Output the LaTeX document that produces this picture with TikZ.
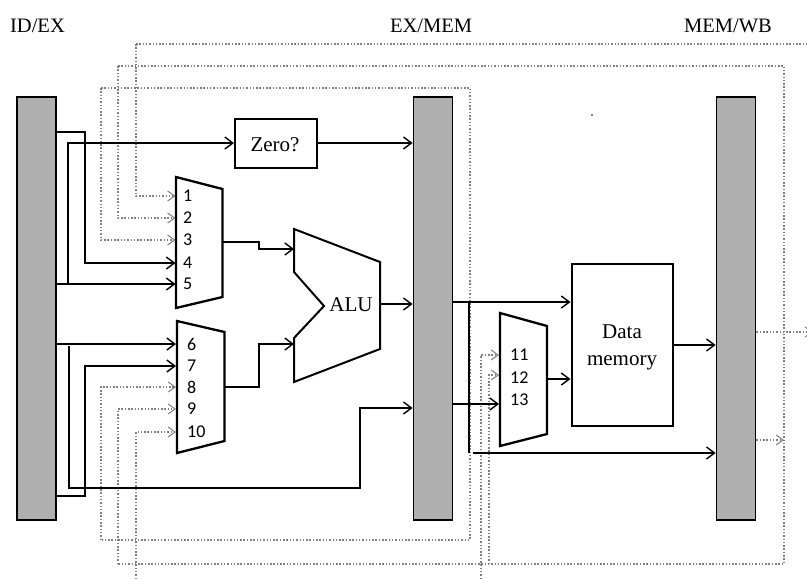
\documentclass[tikz,border=0pt]{standalone}
\usepackage{fontspec}
\setmainfont{Liberation Serif}
\newfontfamily\numfont{Carlito}
\usetikzlibrary{arrows.meta}
\tikzset{
 latch/.style={draw=black,line width=1.8pt,fill=black!31,minimum width=39pt,minimum height=423pt,inner sep=0pt},
 unit/.style={draw=black,line width=2pt,inner sep=0pt},
 unittext/.style={inner sep=0pt,align=center,font=\fontsize{21}{27}\selectfont},
 mux/.style={draw=black,line width=2.3pt,line join=miter},
 wire/.style={black,line width=1.6pt,-{Straight Barb[length=8pt,width=12pt,line width=1.4pt]}},
 fat/.style={line width=2.2pt},
 fwd/.style={gray,line width=1.2pt,dash pattern=on 1.5pt off 1.8pt},
 fwdin/.style={fwd,-{Straight Barb[length=7pt,width=10pt,line width=1pt]}},
 port/.style={anchor=west,inner sep=0pt,font=\numfont\fontsize{18}{18}\selectfont},
 title/.style={font=\fontsize{20.5}{24}\selectfont,inner sep=0pt},
}
\begin{document}
\begin{tikzpicture}[x=1pt,y=-1pt]
 \clip (0,0) rectangle (807,579);
 \fill[white] (0,0) rectangle (807,579);
 % pipeline latches
 \node[latch] (idex) at (36.5,308.5) {};
 \node[latch] (exmem) at (433,308.5) {};
 \node[latch] (memwb) at (736,308.5) {};
 \node[title] (idexlab) at (37.5,26) {ID/EX};
 \node[title] (exmemlab) at (431,26) {EX/MEM};
 \node[title] (memwblab) at (728,26) {MEM/WB};
 % units
 \node[unit,minimum width=82pt,minimum height=49pt] (zero) at (276,143) {};
 \node[unittext] (zerolab) at (275,145) {Zero?};
 \node[unit,minimum width=101pt,minimum height=162pt] (dmem) at (622,345) {};
 \node[unittext] (dmemlab) at (622,347) {Data\\memory};
 \draw[mux,line width=2pt] (294,229) -- (380,262) -- (380,349) -- (294,382) -- (294,338) -- (324,306) -- (294,272) -- cycle;
 \node[unittext] (alu) at (351,305) {ALU};
 \draw[mux] (176,177) -- (222.5,189) -- (222.5,297) -- (176,308) -- cycle;
 \draw[mux] (177,321) -- (224.5,332) -- (224.5,441) -- (177,453) -- cycle;
 \draw[mux] (500,313) -- (547,326) -- (547,434) -- (500,446) -- cycle;
 % mux ports
 \foreach \n/\y in {1/196,2/218,3/240,4/263,5/284}
  {\coordinate (in\n) at (175.5,\y); \node[port] (num\n) at (183,\y) {\n};}
 \foreach \n/\y in {6/344,7/366,8/387,9/409,10/432}
  {\coordinate (in\n) at (176,\y); \node[port] (num\n) at (187,\y) {\n};}
 \foreach \n/\y in {11/355,12/375,13/404}
  \coordinate (in\n) at (499,\y);
 \node[port] (num11) at (510,355) {11};
 \node[port] (num12) at (510,378) {12};
 \node[port] (num13) at (510,400) {13};
 % forwarding paths, dotted
 \draw[fwd] (136,44) -- (807,44);
 \draw[fwdin] (136,44) |- (in1);
 \draw[fwdin] (118,66) |- (in2);
 \draw[fwdin] (101,88) |- (in3);
 \draw[fwd] (118,66) -- (784,66) -- (784,564) -- (118,564);
 \draw[fwd] (101,88) -- (470,88) -- (470,540) -- (101,540);
 \draw[fwdin] (101,540) |- (in8);
 \draw[fwdin] (118,564) |- (in9);
 \draw[fwdin] (136,579) |- (in10);
 \draw[fwdin] (481,579) |- (in11);
 \draw[fwdin] (489,564) |- (in12);
 \draw[fwdin] (memwb.east |- 0,332) -- (813,332);
 \draw[fwdin] (memwb.east |- 0,440) -- (784,440);
 % data paths
 \draw[wire,fat] (idex.east |- 0,132) -| (85,263) -- (in4);
 \draw[wire] (idex.east |- in5) -- (in5);
 \draw[wire,fat] (68,284) -- (68,143) -- (zero.west);
 \draw[wire] (idex.east |- in6) -- (in6);
 \draw[wire,fat] (69,346) -- (69,488) -- (360,488) -- (360,408) -- (exmem.west |- 0,408);
 \draw[wire,fat] (idex.east |- 0,496) -| (85,366) -- (in7);
 \draw[wire] (222.5,242) -- (259,242) -- (259,249) -- (294,249);
 \draw[wire,fat] (224.5,387) -- (259,387) -- (259,344) -- (294,344);
 \draw[wire] (380,304) -- (exmem.west |- 0,304);
 \draw[wire] (zero.east) -- (exmem.west |- zero.east);
 \draw[wire] (exmem.east |- 0,302) -- (dmem.west |- 0,302);
 \draw[wire] (exmem.east |- in13) -- (in13);
 \draw[fat] (469,302) -- (469,453);
 \draw[wire] (473,453) -- (memwb.west |- 0,453);
 \draw[wire] (547,379) -- (dmem.west |- 0,379);
 \draw[wire] (dmem.east) -- (memwb.west |- dmem.east);
 \fill (592,115) circle (0.8);
\end{tikzpicture}
\end{document}
